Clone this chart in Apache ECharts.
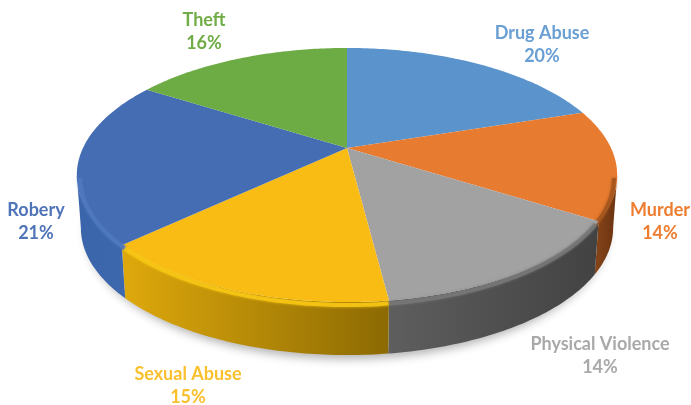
<!DOCTYPE html>
<html>
<head>
<meta charset="utf-8">
<style>html,body{margin:0;padding:0;background:#fff}#c{width:691px;height:405px}</style>
<script src="https://cdn.jsdelivr.net/npm/echarts@6/dist/echarts.min.js"></script>
</head>
<body>
<div id="c"></div>
<script>
// Crime categories and their share of the total, clockwise from twelve o'clock
const categories = ['Drug Abuse', 'Murder', 'Physical Violence', 'Sexual Abuse', 'Robery', 'Theft'];
const shares = [20, 14, 14, 15, 21, 16];

// Face, wall gradient, rim highlight and label colours per slice
const faceColors = ['#5b94cc', '#e77b2f', '#a2a2a2', '#f9bc15', '#446db3', '#6dab45'];
const wallColors = [
  ['#4a7ba9', '#4a7ba9'],
  ['#86451a', '#6a3310'],
  ['#5e5e5e', '#424242'],
  ['#dfa90c', '#8c6a03'],
  ['#3b65ab', '#3d68ae'],
  ['#5a8f38', '#5a8f38']
];
const rimColors = ['#5b94cc', '#a3561f', '#777777', '#f7c514', '#4f78be', '#6dab45'];
const labelColors = ['#6a9fd4', '#ed7d31', '#a9a9a9', '#fbc02d', '#4f74b8', '#70ad47'];
const labelAnchors = [[542, 45], [660, 222], [600, 356], [188, 386], [36, 222], [204, 32]];

// Perspective model of the disc: apex of the slices, half axes, foreshortening, wall height
const apex = [347, 148];
const radiusX = 264;
const radiusY = 121.3;
const foreshorten = 0.2126;
const wallHeight = 53;

const total = shares.reduce((a, b) => a + b, 0);
const startAngles = [];
shares.reduce((acc, v, i) => { startAngles[i] = acc; return acc + v; }, 0);
const toAngle = v => v / total * Math.PI * 2;

// Project a clockwise angle on the disc to the page, dropped by `drop` pixels
function project(theta, drop, inset) {
  const s = Math.sin(theta), c = Math.cos(theta), d = 1 + foreshorten * c;
  return [apex[0] + radiusX * (inset || 1) * s / d, apex[1] - radiusY * c / d + drop];
}
function arc(a0, a1, drop, inset) {
  const n = Math.max(2, Math.ceil(Math.abs(a1 - a0) / 0.015));
  const pts = [];
  for (let i = 0; i <= n; i++) pts.push(project(a0 + (a1 - a0) * i / n, drop, inset));
  return pts;
}

// The wall only shows between the two silhouette points of the disc
const frontStart = Math.acos(-foreshorten);
const frontEnd = Math.PI * 2 - frontStart;
function frontRange(i) {
  const a0 = Math.max(toAngle(startAngles[i]), frontStart);
  const a1 = Math.min(toAngle(startAngles[i] + shares[i]), frontEnd);
  return a1 > a0 ? [a0, a1] : null;
}

// Soft contact shadow under the front of the disc
function renderShadow() {
  return {
    type: 'polygon',
    shape: { points: arc(0, Math.PI * 2, wallHeight - 4, 0.965) },
    style: { fill: '#fff', shadowColor: 'rgba(0,0,0,0.3)', shadowBlur: 10, shadowOffsetY: 8 }
  };
}

function renderWall(params) {
  const i = params.dataIndex, range = frontRange(i);
  if (!range) return { type: 'group', children: [] };
  const top = arc(range[0], range[1], 0);
  const bottom = arc(range[1], range[0], wallHeight, 0.985);
  return {
    type: 'polygon',
    shape: { points: top.concat(bottom) },
    style: {
      fill: new echarts.graphic.LinearGradient(0, 0, 1, 0, [
        { offset: 0, color: wallColors[i][0] },
        { offset: 1, color: wallColors[i][1] }
      ])
    }
  };
}

function renderFace(params, api) {
  const i = params.dataIndex;
  const value = api.value(0);
  const a0 = toAngle(startAngles[i]), a1 = a0 + toAngle(value);
  const children = [{
    type: 'polygon',
    shape: { points: [apex.slice()].concat(arc(a0, a1, 0)) },
    style: { fill: faceColors[i] }
  }];
  const range = frontRange(i);
  if (range) {
    // Bevel along the front rim, kept just inside the silhouette
    children.push({
      type: 'polyline',
      shape: { points: arc(range[0], range[1], 3, 0.988) },
      style: { stroke: rimColors[i], lineWidth: 4, fill: null, shadowColor: rimColors[i], shadowBlur: 3, opacity: 0.85 }
    });
  }
  return { type: 'group', children };
}

function renderLabel(params, api) {
  const i = params.dataIndex;
  return {
    type: 'text',
    x: labelAnchors[i][0],
    y: labelAnchors[i][1],
    style: {
      text: categories[i] + '\n' + api.value(0) + '%',
      fill: labelColors[i],
      font: 'bold 18px Lato',
      lineHeight: 23,
      align: 'center',
      verticalAlign: 'middle'
    }
  };
}

const rows = shares.map(v => [v]);
const layer = (renderItem, z, data) => ({
  type: 'custom', coordinateSystem: 'none', silent: true, z, renderItem, data: data || rows
});

const chart = echarts.init(document.getElementById('c'), null, { renderer: 'canvas' });
chart.setOption({
  animation: false,
  backgroundColor: '#fff',
  series: [
    layer(renderShadow, 1, [[total]]),
    layer(renderWall, 2),
    layer(renderFace, 3),
    layer(renderLabel, 4)
  ]
});
</script>
</body>
</html>
